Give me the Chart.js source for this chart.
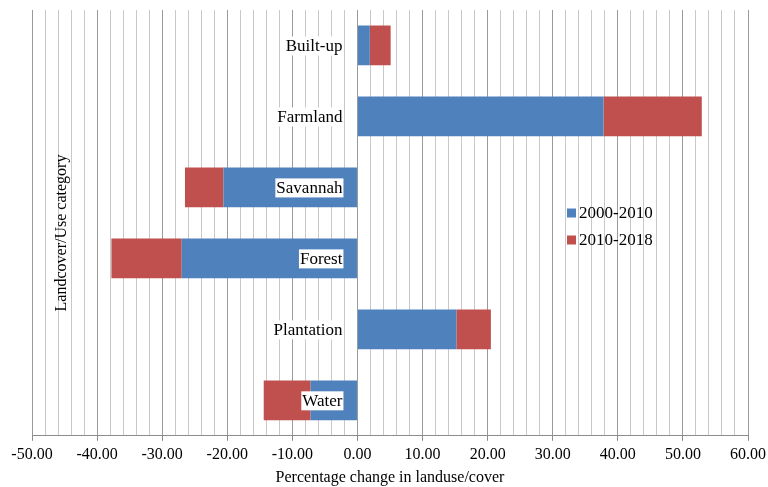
<!DOCTYPE html>
<html>
<head>
<meta charset="utf-8">
<script src="https://cdn.jsdelivr.net/npm/chart.js@4/dist/chart.umd.min.js"></script>
<style>
  html, body { margin: 0; padding: 0; background: #ffffff; }
  #wrap { position: relative; width: 768px; height: 487px; }
</style>
</head>
<body>
<div id="wrap"><canvas id="c" width="768" height="487"></canvas></div>
<script>
// Land use / land cover categories
const categories = ['Built-up', 'Farmland', 'Savannah', 'Forest', 'Plantation', 'Water'];
// Percentage change per period
const change2000to2010 = [1.9, 37.8, -20.6, -27.0, 15.2, -7.2];
const change2010to2018 = [3.2, 15.1, -5.9, -10.8, 5.3, -7.2];
const seriesNames = ['2000-2010', '2010-2018'];
const xMin = -50, xMax = 60, xStep = 2, xMajor = 10;

const SERIF = "'Liberation Serif', 'Times New Roman', serif";
const BLUE = '#4f81bd';
const RED = '#c0504d';

// Category names sit beside the zero line, on top of the bars, on a white box
const categoryLabels = {
  id: 'categoryLabels',
  afterDatasetsDraw(chart) {
    const { ctx } = chart;
    const xs = chart.scales.x, ys = chart.scales.y;
    const right = xs.getPixelForValue(0) - 15;
    ctx.save();
    ctx.font = '17px ' + SERIF;
    ctx.textAlign = 'right';
    ctx.textBaseline = 'middle';
    chart.data.labels.forEach((name, i) => {
      const y = ys.getPixelForValue(i);
      const w = ctx.measureText(name).width;
      ctx.fillStyle = '#ffffff';
      ctx.fillRect(right - w - 1, y - 9, w + 2, 19);
      ctx.fillStyle = '#000';
      ctx.fillText(name, right, y + 1);
    });
    ctx.restore();
  }
};

// Rotated category-axis title drawn inside the plot area
const yTitlePlugin = {
  id: 'yTitle',
  afterDatasetsDraw(chart) {
    const { ctx, chartArea } = chart;
    ctx.save();
    ctx.translate(chartArea.left + 30, 233);
    ctx.rotate(-Math.PI / 2);
    ctx.font = '16px ' + SERIF;
    ctx.fillStyle = '#000';
    ctx.textAlign = 'center';
    ctx.textBaseline = 'middle';
    ctx.fillText('Landcover/Use category', 0, 0);
    ctx.restore();
  }
};

// Legend box placed inside the plot area
const innerLegend = {
  id: 'innerLegend',
  afterDraw(chart) {
    const { ctx } = chart;
    const x = 567, y0 = 213, gap = 27, box = 9;
    ctx.save();
    ctx.font = '17px ' + SERIF;
    ctx.textBaseline = 'middle';
    chart.data.datasets.forEach((ds, i) => {
      const y = y0 + i * gap;
      ctx.fillStyle = ds.backgroundColor;
      ctx.fillRect(x, y - box / 2, box, box);
      ctx.fillStyle = '#000';
      ctx.fillText(ds.label, x + box + 3, y + 1);
    });
    ctx.restore();
  }
};

new Chart(document.getElementById('c'), {
  type: 'bar',
  data: {
    labels: categories,
    datasets: [
      { label: seriesNames[0], data: change2000to2010, backgroundColor: BLUE },
      { label: seriesNames[1], data: change2010to2018, backgroundColor: RED }
    ]
  },
  options: {
    indexAxis: 'y',
    responsive: false,
    animation: false,
    layout: { padding: { left: 32, right: 20, top: 10, bottom: 0 } },
    datasets: { bar: { categoryPercentage: 1, barPercentage: 0.56 } },
    plugins: { legend: { display: false }, tooltip: { enabled: false } },
    scales: {
      x: {
        stacked: true,
        min: xMin,
        max: xMax,
        // end labels may run into the page margin
        afterFit: s => { s.paddingLeft = 0; s.paddingRight = 0; },
        grid: {
          color: c => (c.tick && c.tick.value % xMajor === 0) ? '#9a9a9a' : '#c8c8c8',
          tickColor: c => (c.tick && c.tick.value % xMajor === 0) ? '#8c8c8c' : 'rgba(0,0,0,0)',
          tickLength: 5,
          lineWidth: 1
        },
        border: { color: '#8c8c8c' },
        ticks: {
          stepSize: xStep,
          autoSkip: false,
          maxRotation: 0,
          padding: 5,
          color: '#000',
          font: { family: SERIF, size: 16, lineHeight: 1.1 },
          callback: v => (v % xMajor === 0) ? v.toFixed(2) : ''
        },
        title: {
          display: true,
          text: 'Percentage change in landuse/cover',
          color: '#000',
          font: { family: SERIF, size: 16, lineHeight: 1.1 },
          padding: { top: 1, bottom: 0 }
        }
      },
      y: {
        stacked: true,
        position: { x: 0 },
        grid: { display: false },
        border: { display: false },
        ticks: { display: false }
      }
    }
  },
  plugins: [yTitlePlugin, categoryLabels, innerLegend]
});
</script>
</body>
</html>
